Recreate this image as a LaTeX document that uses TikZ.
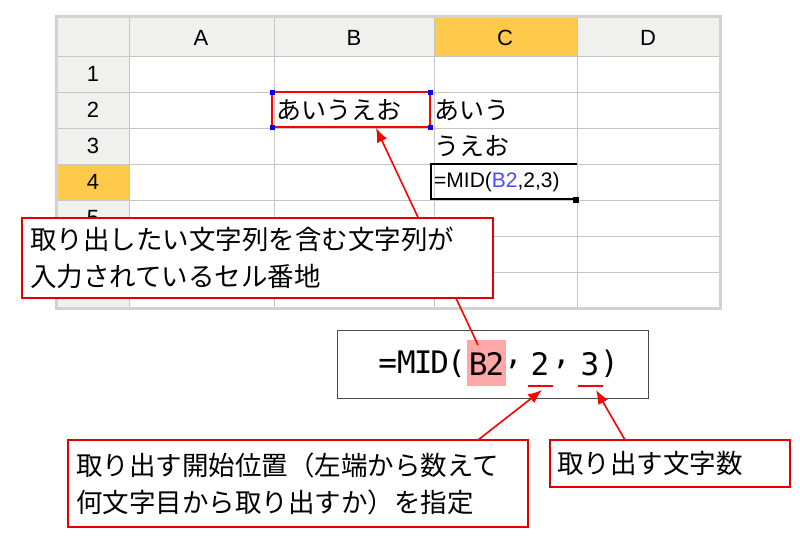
\documentclass[tikz,border=0pt]{standalone}
\usepackage{fontspec}
\setmainfont{Noto Sans CJK JP}
\newfontfamily\hdr{Liberation Sans}
\newfontfamily\mono{DejaVu Sans Mono}
\usetikzlibrary{arrows.meta}
\begin{document}
\begin{tikzpicture}[x=1pt,y=-1pt,
  grid/.style={draw=gray!45,line width=0.6pt},
  callout/.style={draw=red!90!black,line width=1.6pt,fill=white},
  arr/.style={draw=red,line width=1.6pt,-{Latex[length=14pt,width=11pt]}},
  ctext/.style={font=\fontsize{26.5}{37}\selectfont,anchor=west,align=left,inner sep=0pt},
  ftx/.style={font=\fontsize{31}{31}\selectfont,inner sep=0pt}]
\useasboundingbox (0,0) rectangle (800,544);
% sheet
\fill[gray!35] (55,15) rectangle (722,310);
\fill[white] (58,18) rectangle (719,307);
\fill[yellow!10!gray!15] (58,18) rectangle (719,56);
\fill[yellow!10!gray!15] (58,18) rectangle (129,307);
\fill[orange!60!yellow!70] (434,18) rectangle (577,56);
\fill[orange!60!yellow!70] (58,164) rectangle (129,200);
\foreach \y in {56,92,128,164,200,236,272}{\draw[grid] (58,\y) -- (719,\y);}
\foreach \x in {129,274,434,577}{\draw[grid] (\x,18) -- (\x,307);}
\foreach \l/\x in {A/201,B/354,C/505,D/648}{\node[font=\hdr\fontsize{22}{22}\selectfont] (h\l) at (\x,38) {\l};}
\foreach \r/\y in {1/74,2/110,3/146,4/182,5/218}{\node[font=\hdr\fontsize{22}{22}\selectfont] (r\r) at (93,\y) {\r};}
% cells
\node[ctext,font=\fontsize{25}{25}\selectfont] (b2) at (276,110) {あいうえお};
\node[ctext,font=\fontsize{25}{25}\selectfont] (c2) at (434,110) {あいう};
\node[ctext,font=\fontsize{25}{25}\selectfont] (c3) at (434,146) {うえお};
\node[ctext,font=\hdr\fontsize{21}{21}\selectfont] (c4) at (434,182) {=MID(\textcolor{blue!70}{B2},2,3)};
\draw[red,line width=1.6pt] (272,92) rectangle (430,127);
\foreach \p in {(272,92),(430,92),(272,127),(430,127)}{\fill[blue] \p ++(-2.5,-2.5) rectangle ++(5,5);}
\draw[black,line width=1.6pt] (577,164) -- (431,164) -- (431,199) -- (575,199);
\fill[black] (573,197) rectangle (579,203);
% formula box
\fill[red!35] (467,340) rectangle (506,386);
\node[draw=gray!60!black,line width=1pt,minimum width=311pt,minimum height=68pt,inner sep=0pt] (fbox) at (492.5,364) {};
\node[ftx,anchor=east] (f1) at (466,364) {\mono =M\kern-2pt I\kern-2pt D\kern-2pt (};
\node[ftx] (f2) at (486.5,364) {\mono B\kern-2pt 2};
\node[ftx,anchor=west] (f3) at (504,364) {\mono ,};
\node[ftx] (f4) at (540,364) {\mono 2};
\node[ftx,anchor=west] (f5) at (552,364) {\mono ,};
\node[ftx] (f6) at (590,364) {\mono 3};
\node[ftx,anchor=west] (f7) at (600,364) {\mono )};
\coordinate (u2a) at (528,386); \coordinate (u2b) at (553,386);
\coordinate (u3a) at (578,386); \coordinate (u3b) at (603,386);
\draw[red,line width=1.6pt] (u2a) -- (u2b);
\draw[red,line width=1.6pt] (u3a) -- (u3b);
% arrow 1
\coordinate (a1s) at (478,345); \coordinate (a1e) at (376,128);
\draw[arr] (a1s) -- (a1e);
\node[callout,minimum width=471pt,minimum height=80pt] (co1) at (257.5,258) {};
\node[ctext] (t1) at (30,258) {取り出したい文字列を含む文字列が\\入力されているセル番地};
% callouts 2,3
\node[callout,minimum width=460pt,minimum height=87pt] (co2) at (298,483.5) {};
\node[ctext] (t2) at (76,483.5) {取り出す開始位置（左端から数えて\\何文字目から取り出すか）を指定};
\node[callout,minimum width=240pt,minimum height=47pt] (co3) at (670,463.5) {};
\node[ctext] (t3) at (557,463.5) {取り出す文字数};
\draw[arr] (478,440) -- (542,390);
\draw[arr] (625,440) -- (596,390);
\end{tikzpicture}
\end{document}
